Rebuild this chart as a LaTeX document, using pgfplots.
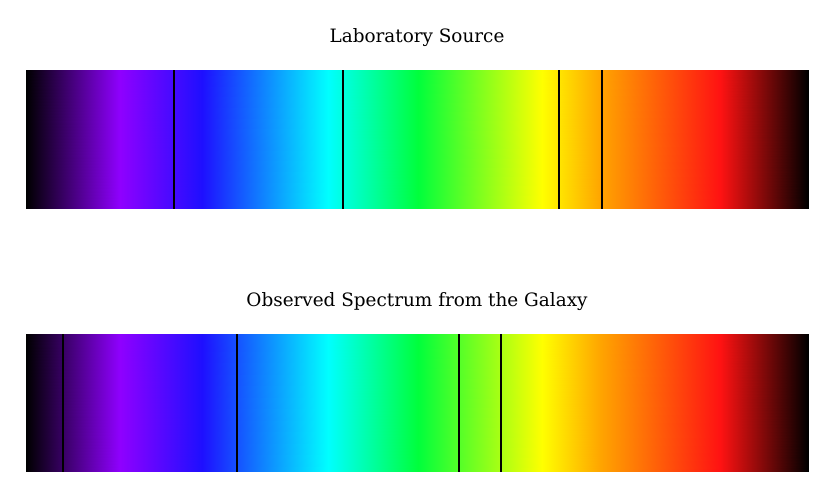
\documentclass[border=0pt]{standalone}
\usepackage{fontspec}
\setmainfont{DejaVu Serif}
\usepackage{pgfplots}
\pgfplotsset{compat=1.18}
\pgfplotsset{
  spectrumaxis/.style={
    scale only axis, width=782bp, height=139bp,
    xmin=0, xmax=782, ymin=0, ymax=1,
    axis lines=none, ticks=none, clip=true,
    point meta min=0, point meta max=782,
    colormap={spec}{[1pt]
      rgb255(0pt)=(0,0,0);
      rgb255(94pt)=(143,0,255);
      rgb255(176pt)=(30,15,255);
      rgb255(302pt)=(0,255,255);
      rgb255(392pt)=(0,255,60);
      rgb255(516pt)=(255,255,0);
      rgb255(574pt)=(255,165,0);
      rgb255(694pt)=(255,18,18);
      rgb255(782pt)=(0,0,0)},
  },
  absline/.style={ycomb, no marks, draw=black, line width=1.7bp},
}
\pgfplotstableread{
x y
0 0
94 0
176 0
302 0
392 0
516 0
574 0
694 0
782 0
0 1
94 1
176 1
302 1
392 1
516 1
574 1
694 1
782 1
}\bandtable
\pgfplotstableread{
x y
148.0 1
317.3 1
533.3 1
575.7 1
}\labtable
\pgfplotstableread{
x y
36.7 1
211.3 1
433.3 1
475.3 1
}\galtable
\begin{document}
\begin{tikzpicture}[x=1bp,y=1bp]
\useasboundingbox (0,0) rectangle (826,489);
\begin{axis}[spectrumaxis, at={(26bp,280bp)}, anchor=south west]
  \addplot[surf, shader=interp, point meta=x, mesh/rows=2] table[x=x,y=y] {\bandtable};
  \addplot[absline] table[x=x,y=y] {\labtable};
\end{axis}
\begin{axis}[spectrumaxis, height=138bp, at={(26bp,17bp)}, anchor=south west]
  \addplot[surf, shader=interp, point meta=x, mesh/rows=2] table[x=x,y=y] {\bandtable};
  \addplot[absline] table[x=x,y=y] {\galtable};
\end{axis}
\node[anchor=base, font=\fontsize{18.4bp}{22bp}\selectfont] at (417,446) {Laboratory Source};
\node[anchor=base, font=\fontsize{18.4bp}{22bp}\selectfont] at (417,182) {Observed Spectrum from the Galaxy};
\end{tikzpicture}
\end{document}
